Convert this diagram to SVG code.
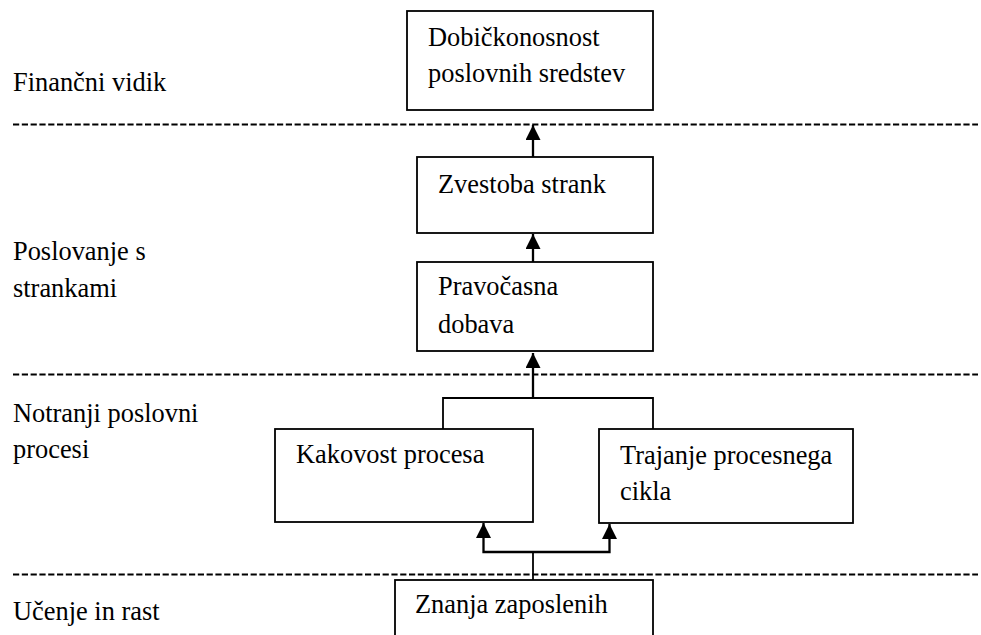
<svg xmlns="http://www.w3.org/2000/svg" width="981" height="635" viewBox="0 0 981 635">
<style>
text{font-family:"Liberation Serif","Times New Roman",serif;font-size:26.4px;fill:#000}
.box{fill:#fff;stroke:#000;stroke-width:1.8}
.sep{stroke:#000;stroke-width:1.8;stroke-dasharray:6.2 2.6}
.con{fill:none;stroke:#000;stroke-width:2.3}
.jn{fill:none;stroke:#000;stroke-width:1.8}
</style>
<defs>
<marker id="ah" markerUnits="userSpaceOnUse" markerWidth="15" markerHeight="15" refX="15" refY="7.5" orient="auto">
<path d="M0,0 L15,7.5 L0,15 Z" fill="#000"/>
</marker>
</defs>
<g id="separators">
<line class="sep" x1="13" y1="124.5" x2="978" y2="124.5"/>
<line class="sep" x1="13" y1="374.5" x2="978" y2="374.5"/>
<line class="sep" x1="13" y1="574.5" x2="978" y2="574.5"/>
</g>
<g id="labels">
<text x="13" y="91">Finančni vidik</text>
<text x="13" y="260">Poslovanje s</text>
<text x="13" y="297">strankami</text>
<text x="13" y="422">Notranji poslovni</text>
<text x="13" y="458">procesi</text>
<text x="13" y="620">Učenje in rast</text>
</g>
<g id="connectors">
<line class="con" x1="533" y1="158" x2="533" y2="125" marker-end="url(#ah)"/>
<line class="con" x1="533" y1="262" x2="533" y2="234" marker-end="url(#ah)"/>
<line class="con" x1="533" y1="398" x2="533" y2="353" marker-end="url(#ah)"/>
<path class="jn" d="M443,429 V398 H653 V429"/>
<line class="jn" x1="533" y1="580" x2="533" y2="552"/>
<path class="con" d="M533,552 H483.5 V523" marker-end="url(#ah)"/>
<path class="con" d="M533,552 H609.5 V524" marker-end="url(#ah)"/>
</g>
<g id="n1">
<rect class="box" x="407" y="11" width="246" height="99"/>
<text x="428" y="46">Dobičkonosnost</text>
<text x="428" y="82">poslovnih sredstev</text>
</g>
<g id="n2">
<rect class="box" x="417" y="157" width="236" height="76"/>
<text x="438" y="193">Zvestoba strank</text>
</g>
<g id="n3">
<rect class="box" x="417" y="262" width="236" height="89"/>
<text x="438" y="295">Pravočasna</text>
<text x="438" y="333">dobava</text>
</g>
<g id="n4">
<rect class="box" x="275" y="429" width="258" height="93"/>
<text x="296" y="463">Kakovost procesa</text>
</g>
<g id="n5">
<rect class="box" x="599" y="429" width="254" height="94"/>
<text x="620" y="464">Trajanje procesnega</text>
<text x="620" y="500">cikla</text>
</g>
<g id="n6">
<rect class="box" x="395" y="580" width="258" height="70"/>
<text x="415" y="613">Znanja zaposlenih</text>
</g>
</svg>
